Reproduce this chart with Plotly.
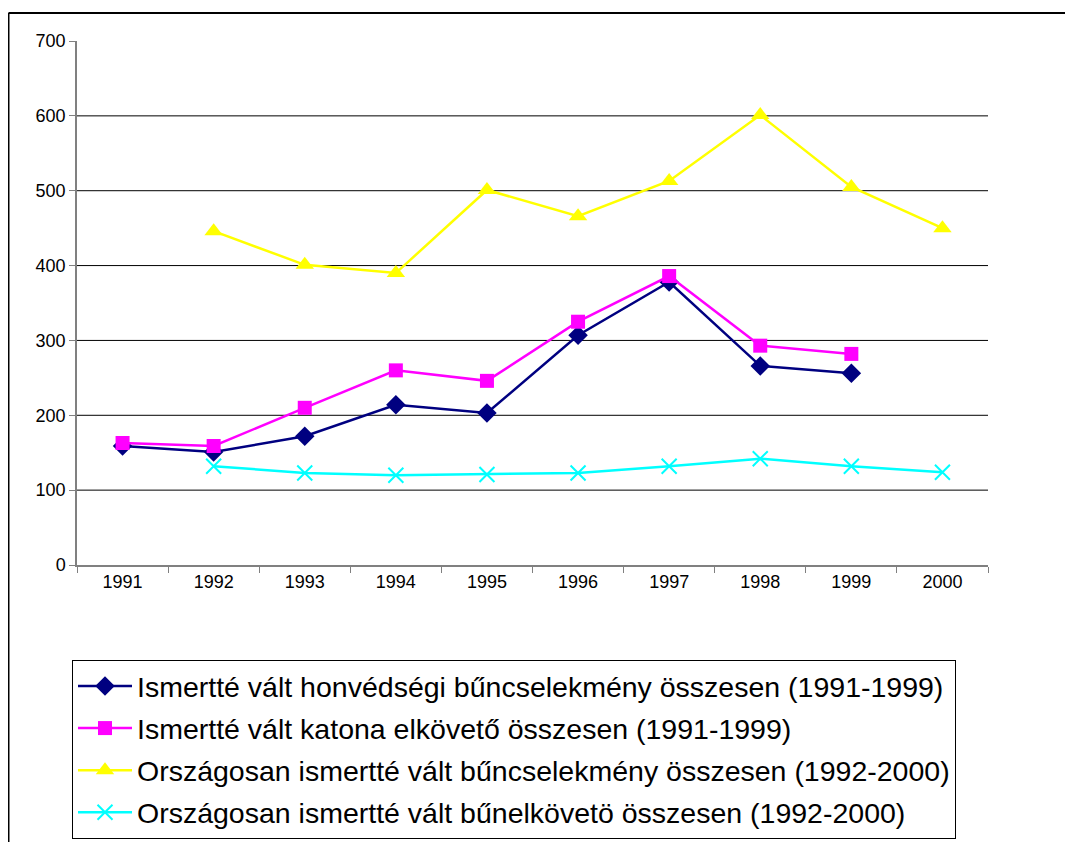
import plotly.graph_objects as go

years = ["1991", "1992", "1993", "1994", "1995", "1996", "1997", "1998", "1999", "2000"]
honvedsegi = [159, 151, 172, 214, 203, 307, 378, 266, 256, None]
katona = [163, 159, 210, 260, 246, 325, 386, 293, 282, None]
orszagos_bcs = [None, 446, 401, 390, 501, 466, 513, 601, 505, 450]
orszagos_elk = [None, 132, 123, 120, 121, 123, 132, 142, 132, 124]

names = [
    "Ismertté vált honvédségi bűncselekmény összesen (1991-1999)",
    "Ismertté vált katona elkövető összesen (1991-1999)",
    "Országosan ismertté vált bűncselekmény összesen (1992-2000)",
    "Országosan ismertté vált bűnelkövetö összesen (1992-2000)",
]
y_ticks = [0, 100, 200, 300, 400, 500, 600, 700]
grid_vals = [100, 200, 300, 400, 500, 600]

FONT = "Arial, 'Liberation Sans', sans-serif"

fig = go.Figure()
fig.add_trace(go.Scatter(x=years, y=honvedsegi, name=names[0], mode="lines+markers",
                         legendgroup="g1",
                         line=dict(color="#000080", width=2.5),
                         marker=dict(symbol="diamond", size=15, color="#000080")))
fig.add_trace(go.Scatter(x=years, y=katona, name=names[1], mode="lines+markers",
                         legendgroup="g2",
                         line=dict(color="#FF00FF", width=2.5),
                         marker=dict(symbol="square", size=14, color="#FF00FF")))
fig.add_trace(go.Scatter(x=years, y=orszagos_bcs, name=names[2], mode="lines+markers",
                         legendgroup="g3",
                         line=dict(color="#FFFF00", width=2.5),
                         marker=dict(symbol="triangle-up", size=16, color="#FFFF00")))
fig.add_trace(go.Scatter(x=years, y=orszagos_elk, name=names[3], mode="lines+markers",
                         legendgroup="g4",
                         line=dict(color="#00FFFF", width=2.5),
                         marker=dict(symbol="x-thin", size=15, color="#00FFFF",
                                     line=dict(color="#00FFFF", width=2))))

shapes = []
for g in grid_vals:
    shapes.append(dict(type="line", xref="paper", yref="y", x0=0, x1=1, y0=g, y1=g,
                       line=dict(color="#000000", width=1), layer="below"))
# outer chart-area frame (top and left edges visible)
shapes.append(dict(type="line", xref="paper", yref="paper", x0=-0.0752, x1=1.2,
                   y0=1.0534, y1=1.0534, line=dict(color="#000000", width=2)))
shapes.append(dict(type="line", xref="paper", yref="paper", x0=-0.0752, x1=-0.0752,
                   y0=1.0534, y1=-0.7, line=dict(color="#000000", width=2)))

fig.update_layout(
    width=1073, height=842,
    margin=dict(l=69, r=93, t=33, b=285, autoexpand=False),
    paper_bgcolor="white", plot_bgcolor="white",
    font=dict(family=FONT, color="#000000"),
    showlegend=True,
    legend=dict(
        xref="paper", yref="paper",
        x=(64 - 69) / 911, y=(557 - 652) / 524, xanchor="left", yanchor="top",
        bordercolor="#000000", borderwidth=1, bgcolor="white",
        font=dict(family=FONT, size=28.5, color="#000000"),
        tracegroupgap=2, itemwidth=54,
    ),
    shapes=shapes,
    xaxis=dict(
        type="category", range=[-0.5, 9.5], tickson="boundaries",
        ticks="outside", ticklen=6, tickcolor="#808080", tickwidth=1,
        showline=True, linecolor="#808080", linewidth=1.5,
        showgrid=False, tickfont=dict(size=18, family=FONT, color="#000000"),
        zeroline=False, tickangle=0,
    ),
    yaxis=dict(
        range=[0, 700], tickvals=y_ticks, ticktext=[str(v) for v in y_ticks],
        ticks="outside", ticklen=6, tickcolor="#808080", tickwidth=1,
        showline=True, linecolor="#808080", linewidth=1.5,
        showgrid=False, zeroline=False,
        tickfont=dict(size=18, family=FONT, color="#000000"),
    ),
)

fig.write_html("out.html")
